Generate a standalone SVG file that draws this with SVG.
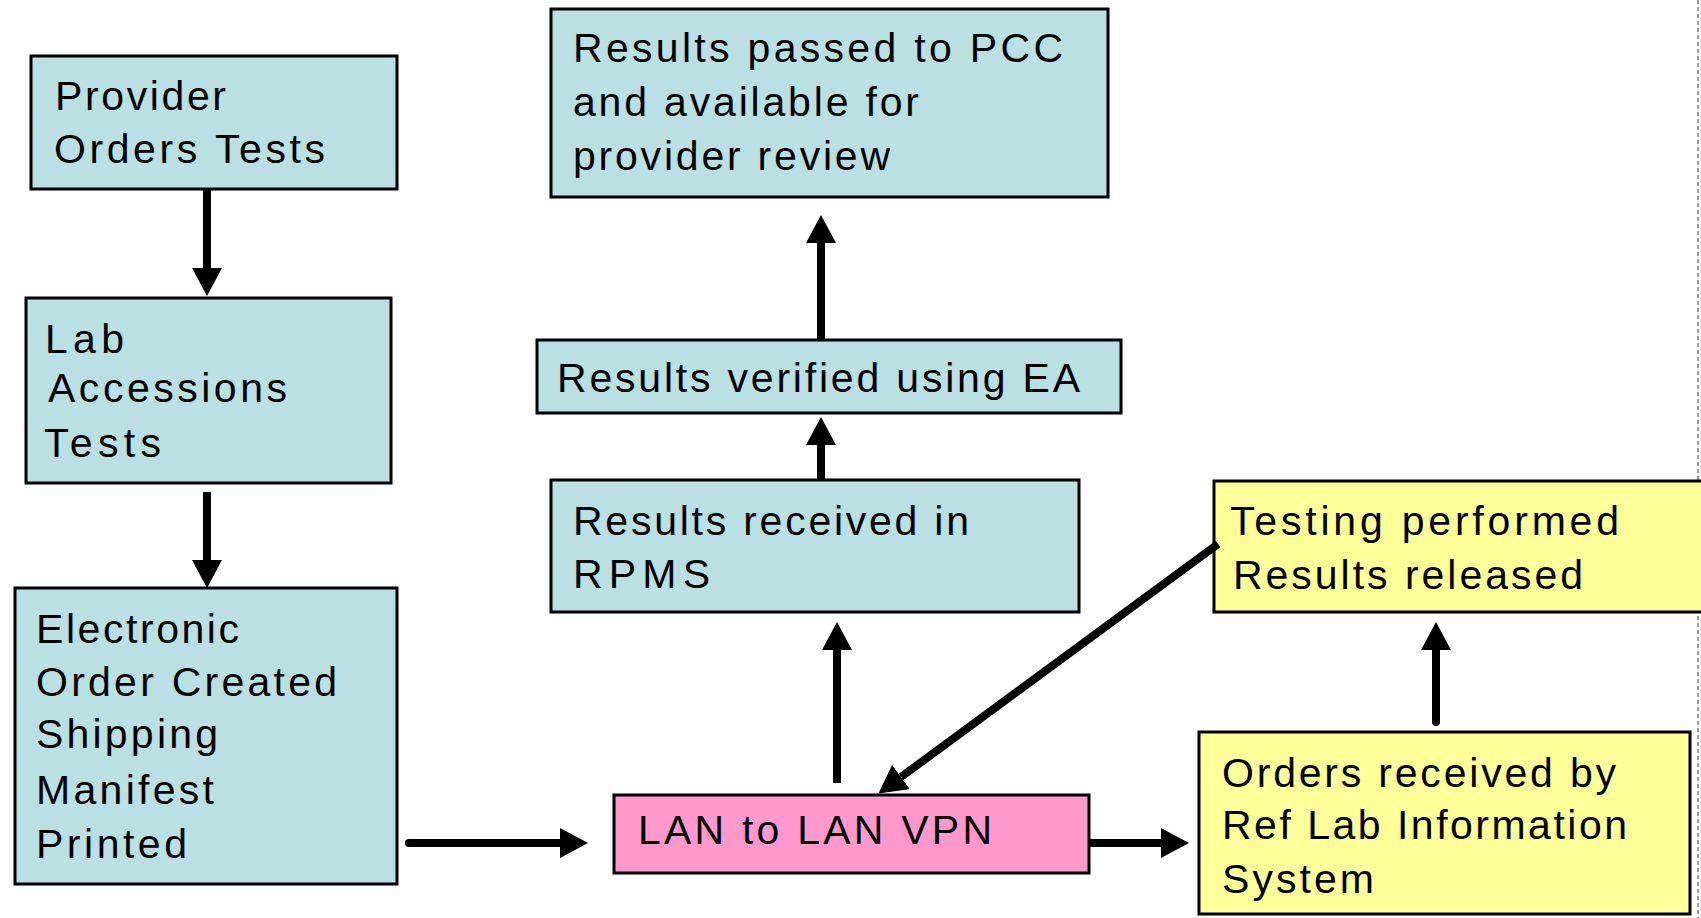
<svg xmlns="http://www.w3.org/2000/svg" width="1701" height="918" viewBox="0 0 1701 918">
<style>
.box{stroke:#000;stroke-width:3}
.blue{fill:#BBE0E3}
.pink{fill:#FF99CC}
.yellow{fill:#FFFF99}
text{font-family:"Liberation Sans",Arial,sans-serif;font-size:41px;fill:#000}
.conn{stroke:#000;stroke-width:8;fill:none;marker-end:url(#ah)}
</style>
<defs>
<marker id="ah" markerUnits="userSpaceOnUse" markerWidth="28" markerHeight="30" viewBox="0 0 28 30" refX="0" refY="15" orient="auto">
<path d="M0,0 L28,15 L0,30 z" fill="#000"/>
</marker>
</defs>
<rect width="1701" height="918" fill="#fff"/>
<line x1="1698" y1="0" x2="1698" y2="918" stroke="#999" stroke-width="2" stroke-dasharray="4 3"/>

<g id="provider">
<rect class="box blue" x="31" y="56" width="366" height="133"/>
<text x="55" y="110" textLength="171" lengthAdjust="spacing">Provider</text>
<text x="54" y="163" textLength="271" lengthAdjust="spacing">Orders Tests</text>
</g>
<g id="lab">
<rect class="box blue" x="26" y="298" width="365" height="185"/>
<text x="45" y="353" textLength="79" lengthAdjust="spacing">Lab</text>
<text x="48" y="402" textLength="239" lengthAdjust="spacing">Accessions</text>
<text x="44" y="457" textLength="117" lengthAdjust="spacing">Tests</text>
</g>
<g id="electronic">
<rect class="box blue" x="15" y="588" width="382" height="296"/>
<text x="36" y="643" textLength="203" lengthAdjust="spacing">Electronic</text>
<text x="36" y="696" textLength="301" lengthAdjust="spacing">Order Created</text>
<text x="36" y="748" textLength="182" lengthAdjust="spacing">Shipping</text>
<text x="36" y="804" textLength="178" lengthAdjust="spacing">Manifest</text>
<text x="36" y="858" textLength="151" lengthAdjust="spacing">Printed</text>
</g>
<g id="passed">
<rect class="box blue" x="551" y="9" width="557" height="188"/>
<text x="573" y="62" textLength="490" lengthAdjust="spacing">Results passed to PCC</text>
<text x="573" y="116" textLength="346" lengthAdjust="spacing">and available for</text>
<text x="573" y="170" textLength="317" lengthAdjust="spacing">provider review</text>
</g>
<g id="verified">
<rect class="box blue" x="537" y="340" width="584" height="73"/>
<text x="557" y="392" textLength="523" lengthAdjust="spacing">Results verified using EA</text>
</g>
<g id="received">
<rect class="box blue" x="551" y="480" width="528" height="132"/>
<text x="573" y="535" textLength="396" lengthAdjust="spacing">Results received in</text>
<text x="573" y="588" textLength="137" lengthAdjust="spacing">RPMS</text>
</g>
<g id="lan">
<rect class="box pink" x="614" y="795" width="475" height="78"/>
<text x="638" y="844" textLength="354" lengthAdjust="spacing">LAN to LAN VPN</text>
</g>
<g id="testing">
<rect class="box yellow" x="1214" y="481" width="495" height="131"/>
<text x="1230" y="535" textLength="389" lengthAdjust="spacing">Testing performed</text>
<text x="1233" y="589" textLength="350" lengthAdjust="spacing">Results released</text>
</g>
<g id="orders">
<rect class="box yellow" x="1199" y="732" width="491" height="182"/>
<text x="1222" y="787" textLength="394" lengthAdjust="spacing">Orders received by</text>
<text x="1222" y="839" textLength="405" lengthAdjust="spacing">Ref Lab Information</text>
<text x="1222" y="893" textLength="152" lengthAdjust="spacing">System</text>
</g>

<g id="connectors">
<path class="conn" stroke-width="10" d="M207,189 L207,268"/>
<path class="conn" stroke-width="10" d="M207,492 L207,560"/>
<path class="conn" stroke-linecap="round" d="M409,843 L560,843"/>
<path class="conn" d="M837,783 L837,650"/>
<path class="conn" d="M821,480 L821,445"/>
<path class="conn" d="M821,340 L821,243"/>
<path class="conn" stroke-width="7" d="M1218,544 L901,777"/>
<path class="conn" stroke-width="10" d="M1089,843 L1161,843"/>
<path class="conn" stroke-linecap="round" d="M1436,722 L1436,650"/>
</g>
</svg>
